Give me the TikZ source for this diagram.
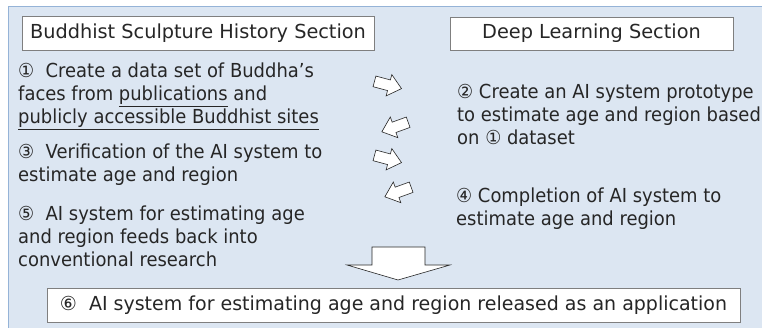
\documentclass[tikz,border=0pt]{standalone}
\usepackage{fontspec}
\setmainfont{DejaVu Sans}
\newfontfamily\bodyfont{DejaVu Sans}[FakeStretch=0.93]
\newfontfamily\wideline{DejaVu Sans}[FakeStretch=0.985]
\usetikzlibrary{positioning}
\definecolor{panelblue}{HTML}{DCE6F2}
\definecolor{panelline}{HTML}{95B3D7}
\definecolor{boxline}{HTML}{7F7F7F}
\definecolor{inktext}{HTML}{262626}
\tikzset{fatarrow/.pic={
  \draw[draw=inktext,fill=white,line width=0.6pt,line join=miter]
    (-14,-5.5) -- (1,-5.5) -- (1,-11) -- (14,0) -- (1,11) -- (1,5.5) -- (-14,5.5) -- cycle;}}

\begin{document}
\begin{tikzpicture}
  [x=1pt,y=-1pt,every node/.style={text=inktext,font=\fontsize{19.3}{23}\selectfont}]

  \tikzstyle{header} = [draw=boxline,fill=white,line width=0.6pt,inner sep=0pt]
  \tikzstyle{itemtext} = [align=left,inner sep=0pt,anchor=west,font=\bodyfont\fontsize{19.3}{23}\selectfont]

  \useasboundingbox (0,0) rectangle (762,328);
  \clip (0,0) rectangle (762,328);
  \draw[fill=panelblue,draw=panelline,line width=1pt] (8,7) rectangle (780,340);

  \node[header,minimum width=352pt,minimum height=34pt] (history) at (198,33) {Buddhist Sculpture History Section};
  \node[header,minimum width=283pt,minimum height=33pt] (deep) at (591.5,33.5) {Deep Learning Section};

  \node[itemtext] (step1) at (18,96.5) {①\ \ Create a data set of Buddha’s\\faces from \underline{publications} and\\\underline{publicly accessible Buddhist sites}};
  \node[itemtext] (step3) at (18,164.5) {③\ \ Verification of the AI system to\\estimate age and region};
  \node[itemtext] (step5) at (18,236) {⑤\ \ AI system for estimating age\\and region feeds back into\\conventional research};
  \node[itemtext] (step2) at (457,114) {② Create an AI system prototype\\to estimate age and region based\\on ① dataset};
  \node[itemtext] (step4) at (456,208.5) {④ Completion of AI system to\\estimate age and region};

  \node[header,minimum width=693pt,minimum height=34pt,font=\wideline\fontsize{19.3}{23}\selectfont] (release) at (393.5,305) {⑥\ \ AI system for estimating age and region released as an application};

  \pic[rotate=-15] at (388,85) {fatarrow};
  \pic[rotate=200] at (395,127) {fatarrow};
  \pic[rotate=-15] at (388,159) {fatarrow};
  \pic[rotate=200] at (398,192) {fatarrow};

  \draw[draw=inktext,fill=white,line width=0.6pt] (372,247) -- (425,247) -- (425,265) -- (450,265)
    -- (398,280) -- (347,265) -- (372,265) -- cycle;
\end{tikzpicture}
\end{document}
